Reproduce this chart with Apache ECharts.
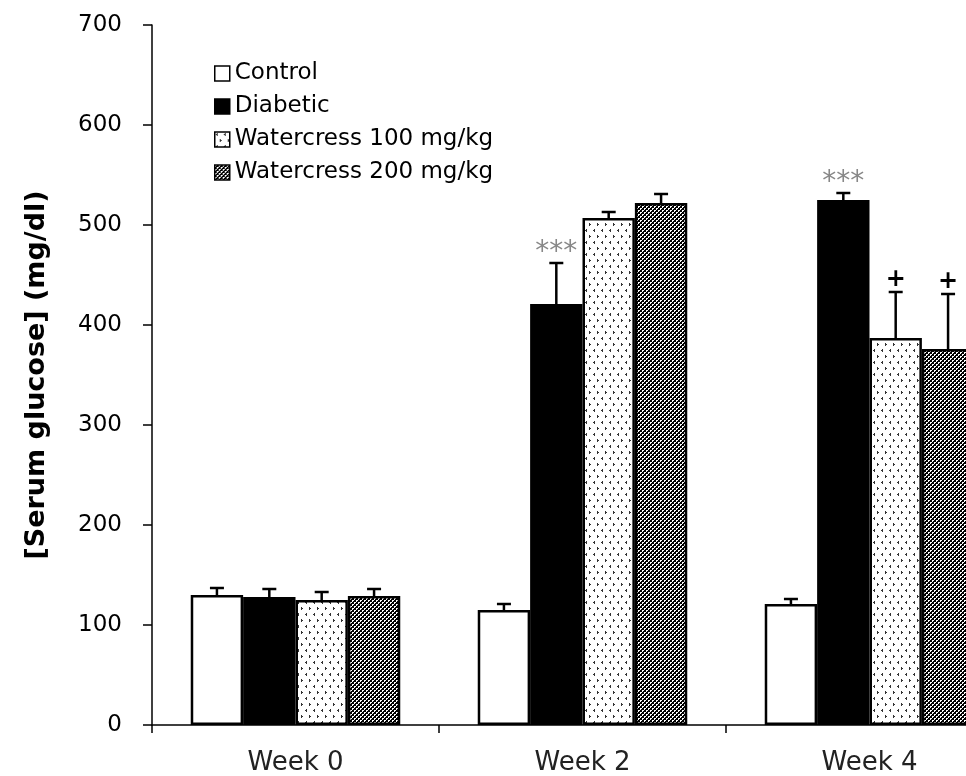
<!DOCTYPE html>
<html>
<head>
<meta charset="utf-8">
<script src="https://cdn.jsdelivr.net/npm/echarts@6/dist/echarts.min.js"></script>
<style>
html,body{margin:0;padding:0;background:#fff;overflow:hidden;width:966px;height:776px;}
#chart{width:1013px;height:776px;}
</style>
</head>
<body>
<div id="chart"></div>
<script>
// ---- data ----
const categories = ['Week 0', 'Week 2', 'Week 4'];
const seriesNames = ['Control', 'Diabetic', 'Watercress 100 mg/kg', 'Watercress 200 mg/kg'];
const controlMean = [130, 115, 121];
const controlSem = [7, 6, 5];
const diabeticMean = [128, 421, 525];
const diabeticSem = [8, 41, 7];
const w100Mean = [125, 507, 387];
const w100Sem = [8, 6, 46];
const w200Mean = [129, 522, 376];
const w200Sem = [7, 9, 55];
const controlSig = ['', '', ''];
const diabeticSig = ['', '***', '***'];
const w100Sig = ['', '', '+'];
const w200Sig = ['', '', '+'];
const yTicks = [0, 100, 200, 300, 400, 500, 600, 700];

const FONT = 'DejaVu Sans';

// ---- fill patterns ----
function dotPattern() {
  const c = document.createElement('canvas');
  c.width = 8; c.height = 12;
  const g = c.getContext('2d');
  g.fillStyle = '#fff'; g.fillRect(0, 0, 8, 12);
  g.fillStyle = '#333';
  g.fillRect(2, 1, 1, 1); g.fillRect(1, 2, 2, 1); g.fillRect(2, 3, 1, 1);
  g.fillRect(5, 7, 1, 1); g.fillRect(5, 8, 2, 1); g.fillRect(5, 9, 1, 1);
  return c;
}
function checkPattern() {
  const c = document.createElement('canvas');
  c.width = 4; c.height = 4;
  const g = c.getContext('2d');
  g.fillStyle = '#000'; g.fillRect(0, 0, 4, 4);
  g.fillStyle = '#fff';
  g.fillRect(0, 0, 2, 1); g.fillRect(0, 1, 1, 1);
  g.fillRect(2, 2, 2, 1); g.fillRect(2, 3, 1, 1);
  return c;
}

const fills = [
  '#ffffff',
  '#000000',
  { image: dotPattern(), repeat: 'repeat' },
  { image: checkPattern(), repeat: 'repeat' }
];
const means = [controlMean, diabeticMean, w100Mean, w200Mean];
const sems = [controlSem, diabeticSem, w100Sem, w200Sem];
const sigs = [controlSig, diabeticSig, w100Sig, w200Sig];

const GAP = 0.27; // barCategoryGap fraction
const N = 4;

const series = [];
seriesNames.forEach((name, i) => {
  series.push({
    name: name,
    type: 'bar',
    data: means[i],
    barGap: '0%',
    barCategoryGap: (GAP * 100) + '%',
    itemStyle: { color: fills[i], borderColor: '#000', borderWidth: 2.5 },
    emphasis: { disabled: true },
    z: 2
  });
});

// error bars + significance marks
seriesNames.forEach((name, i) => {
  const data = categories.map((c, k) => [k, means[i][k], means[i][k] + sems[i][k], sigs[i][k]]);
  series.push({
    type: 'custom',
    name: name + ' err',
    data: data,
    encode: { x: 0, y: [1, 2] },
    z: 3,
    silent: true,
    renderItem: function (params, api) {
      const band = api.size([1, 0])[0];
      const bw = band * (1 - GAP) / N;
      const base = api.coord([api.value(0), api.value(1)]);
      const topPt = api.coord([api.value(0), api.value(2)]);
      const x = base[0] - band * (1 - GAP) / 2 + (i + 0.5) * bw;
      const yb = base[1], yt = topPt[1];
      const cap = 7;
      const children = [
        { type: 'line', shape: { x1: x, y1: yb, x2: x, y2: yt }, style: { stroke: '#000', lineWidth: 2.5 } },
        { type: 'line', shape: { x1: x - cap, y1: yt, x2: x + cap, y2: yt }, style: { stroke: '#000', lineWidth: 2.5 } }
      ];
      const s = data[params.dataIndex][3];
      if (s === '***') {
        children.push({ type: 'text', style: { text: s, x: x, y: yt + 4, align: 'center', verticalAlign: 'bottom', font: '28px "' + FONT + '"', fill: '#888' } });
      } else if (s) {
        children.push({ type: 'text', style: { text: s, x: x, y: yt, align: 'center', verticalAlign: 'bottom', font: 'bold 24px "' + FONT + '"', fill: '#000' } });
      }
      return { type: 'group', children: children };
    }
  });
});

const chart = echarts.init(document.getElementById('chart'), null, { renderer: 'canvas' });
chart.setOption({
  animation: false,
  backgroundColor: '#fff',
  textStyle: { fontFamily: FONT },
  grid: { left: 152, top: 25, bottom: 51, right: 0, containLabel: false },
  legend: {
    data: seriesNames,
    orient: 'vertical',
    left: 209,
    top: 57,
    itemWidth: 15,
    itemHeight: 15,
    itemGap: 10,
    icon: 'rect',
    itemStyle: { borderColor: '#000', borderWidth: 1.5 },
    textStyle: { fontFamily: FONT, fontSize: 23, color: '#000', lineHeight: 23 },
    selectedMode: false
  },
  xAxis: {
    type: 'category',
    data: categories,
    axisLine: { lineStyle: { color: '#000', width: 1.5 } },
    axisTick: { show: true, length: 8, alignWithLabel: false, lineStyle: { color: '#000', width: 1.5 } },
    axisLabel: { fontFamily: FONT, fontSize: 26, color: '#222', margin: 25 },
    splitLine: { show: false }
  },
  yAxis: {
    type: 'value',
    min: yTicks[0],
    max: yTicks[yTicks.length - 1],
    interval: 100,
    name: '[Serum glucose] (mg/dl)',
    nameLocation: 'middle',
    nameRotate: 90,
    nameGap: 102,
    nameTextStyle: { fontFamily: FONT, fontSize: 27, fontWeight: 'bold', color: '#000' },
    axisLine: { show: true, lineStyle: { color: '#000', width: 1.5 } },
    axisTick: { show: true, length: 9, inside: false, lineStyle: { color: '#000', width: 1.5 } },
    axisLabel: { fontFamily: FONT, fontSize: 23, color: '#000', margin: 30 },
    splitLine: { show: false }
  },
  series: series
});
</script>
</body>
</html>
